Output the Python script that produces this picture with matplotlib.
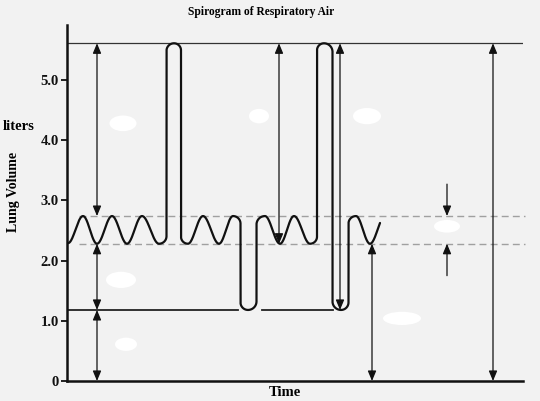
import numpy as np
import matplotlib
matplotlib.use("Agg")
import matplotlib.pyplot as plt
from matplotlib.patches import Ellipse

# ---------------- data ----------------
# breathing trace extrema (time units, lung volume in liters)
breath_t = [1, 16, 30, 45, 60, 75, 92, 107, 121, 136, 152, 166, 181, 198,
            213, 227, 243, 257, 274, 289, 303, 318]
breath_v = [2.29, 2.74, 2.28, 2.74, 2.28, 2.74, 2.28, 5.61, 2.28, 2.74, 2.28,
            2.74, 1.18, 2.74, 2.28, 2.74, 2.28, 5.61, 1.18, 2.74, 2.28, 2.74]
trace_end = 313

tlc = 5.61          # total lung capacity level
tidal_top = 2.74    # end-inspiration level
tidal_bot = 2.28    # end-expiration level (FRC)
rv = 1.18           # residual volume level

# double arrows: (time, from, to)
double_arrows = [(30, tlc, tidal_top), (30, tidal_bot, rv), (30, rv, 0.0),
                 (212, tlc, tidal_bot), (273, tlc, rv), (305, tidal_bot, 0.0),
                 (426, tlc, 0.0)]
# tidal volume arrows: (time, from, to)
tv_arrows = [(380, 3.27, tidal_top), (380, 1.75, tidal_bot)]
rv_line_segments = [(0, 171), (195, 266)]

yticks = [5.0, 4.0, 3.0, 2.0, 1.0, 0.0]
ytick_labels = ["5.0", "4.0", "3.0", "2.0", "1.0", "0"]

# erased label patches (time, volume, width, height)
blobs = [(56, 4.28, 27, 0.26), (192, 4.40, 20, 0.24), (300, 4.40, 28, 0.27),
         (54, 1.68, 30, 0.27), (59, 0.61, 22, 0.22), (335, 1.04, 38, 0.22),
         (380, 2.57, 26, 0.21)]

PX_PER_L = 60.2

# ---------------- build trace ----------------
xs, ys = [], []
for i in range(len(breath_t) - 1):
    xa, xb = breath_t[i], breath_t[i + 1]
    ya, yb = breath_v[i], breath_v[i + 1]
    dx, dy = xb - xa, yb - ya
    if abs(dy) < 0.8:
        u = np.linspace(0, 1, 40)
        sx = xa + dx * u
        sy = ya + dy * (1 - np.cos(np.pi * u)) / 2
    else:
        s = np.sign(dy)
        rx = dx / 2.0
        ry = rx / PX_PER_L
        th1 = np.radians(np.linspace(-s * 90, 0, 30))
        x1 = xa + rx * np.cos(th1)
        y1 = ya + s * ry + ry * np.sin(th1)
        th2 = np.radians(np.linspace(180, 180 - s * 90, 30))
        x2 = xb + rx * np.cos(th2)
        y2 = yb - s * ry + ry * np.sin(th2)
        sx = np.concatenate([x1, x2])
        sy = np.concatenate([y1, y2])
    xs.extend(sx)
    ys.extend(sy)
xs = np.array(xs)
ys = np.array(ys)
mask = xs <= trace_end
xs, ys = xs[mask], ys[mask]

# ---------------- figure ----------------
bg = "#f2f2f2"
fig = plt.figure(figsize=(5.40, 4.01), dpi=100, facecolor=bg)
ax = fig.add_axes([67 / 540, 20 / 401, 456 / 540, 356 / 401])
ax.set_facecolor(bg)
ax.set_xlim(0, 456)
ax.set_ylim(0, 356 / PX_PER_L)

for sp in ["top", "right"]:
    ax.spines[sp].set_visible(False)
for sp in ["left", "bottom"]:
    ax.spines[sp].set_linewidth(1.8)
    ax.spines[sp].set_color("#111111")

serif = "Liberation Serif"
ax.set_xticks([])
ax.set_yticks(yticks)
ax.set_yticklabels(ytick_labels, fontfamily=serif, fontweight="bold", fontsize=10.5)
ax.tick_params(axis="y", direction="out", length=4, width=1.3, pad=2, colors="#111111")

# reference levels
ax.axhline(tlc, xmin=0, xmax=1, color="#333333", lw=0.9)
for lvl in (tidal_top, tidal_bot):
    ax.plot([12, 458], [lvl, lvl], color="#a0a0a0", lw=1.0, dashes=(5, 3), clip_on=False)
for a, b in rv_line_segments:
    ax.plot([a, b], [rv, rv], color="#222222", lw=1.3)

# trace
ax.plot(xs, ys, color="#111111", lw=1.6, solid_capstyle="round")

# arrows
for x, y0, y1 in double_arrows:
    ax.annotate("", xy=(x, y1), xytext=(x, y0),
                arrowprops=dict(arrowstyle="<|-|>,head_length=0.6,head_width=0.25",
                                mutation_scale=10, color="#111111", lw=0.9,
                                shrinkA=0, shrinkB=0))
for x, y0, y1 in tv_arrows:
    ax.annotate("", xy=(x, y1), xytext=(x, y0),
                arrowprops=dict(arrowstyle="-|>,head_length=0.6,head_width=0.25",
                                mutation_scale=10, color="#111111", lw=0.9,
                                shrinkA=0, shrinkB=0))

# erased label patches
for bx, by, bw, bh in blobs:
    ax.add_patch(Ellipse((bx, by), bw, bh, facecolor="white", edgecolor="none", zorder=5))

# texts
fig.text(261 / 540, 1 - 12 / 401, "Spirogram of Respiratory Air", ha="center", va="center",
         fontfamily=serif, fontweight="bold", fontsize=8.3)
fig.text(19 / 540, 1 - 127 / 401, "liters", ha="center", va="center",
         fontfamily=serif, fontweight="bold", fontsize=10.5)
fig.text(14 / 540, 1 - 192 / 401, "Lung Volume", ha="center", va="center", rotation=90,
         fontfamily=serif, fontweight="bold", fontsize=10)
fig.text(285 / 540, 1 - 392 / 401, "Time", ha="center", va="center",
         fontfamily=serif, fontweight="bold", fontsize=10.5)

fig.savefig("out.png", dpi=100, facecolor=bg)
